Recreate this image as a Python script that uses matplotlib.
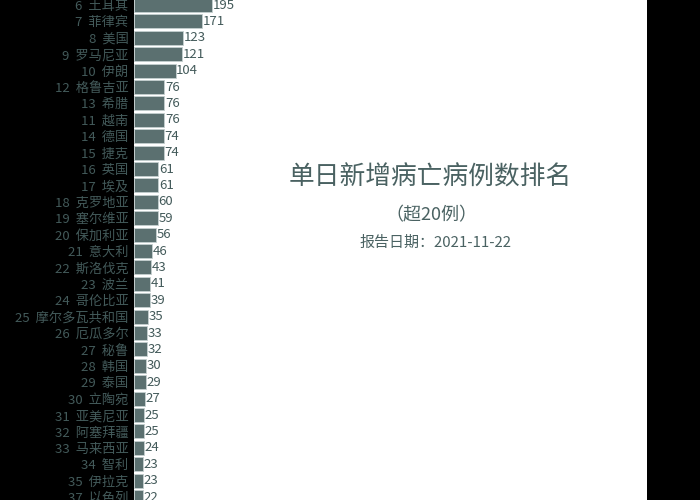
import matplotlib
matplotlib.use("Agg")
import matplotlib.pyplot as plt

plt.rcParams['font.family'] = ['Noto Sans CJK SC', 'DejaVu Sans']

ranks = [6, 7, 8, 9, 10, 12, 13, 11, 14, 15, 16, 17, 18, 19, 20, 21, 22, 23, 24,
         25, 26, 27, 28, 29, 30, 31, 32, 33, 34, 35, 37]
countries = ["土耳其", "菲律宾", "美国", "罗马尼亚", "伊朗", "格鲁吉亚", "希腊", "越南",
             "德国", "捷克", "英国", "埃及", "克罗地亚", "塞尔维亚", "保加利亚", "意大利",
             "斯洛伐克", "波兰", "哥伦比亚", "摩尔多瓦共和国", "厄瓜多尔", "秘鲁", "韩国",
             "泰国", "立陶宛", "亚美尼亚", "阿塞拜疆", "马来西亚", "智利", "伊拉克", "以色列"]
values = [195, 171, 123, 121, 104, 76, 76, 76, 74, 74, 61, 61, 60, 59, 56, 46, 43, 41,
          39, 35, 33, 32, 30, 29, 27, 25, 25, 24, 23, 23, 22]

title = "单日新增病亡病例数排名"
subtitle = "（超20例）"
date_text = "报告日期：2021-11-22"

bar_color = "#5b7070"
text_color = "#435a5a"

fig = plt.figure(figsize=(7, 5), dpi=100, facecolor="black")
ax = fig.add_axes([134 / 700, 0, 513 / 700, 1])
ax.set_facecolor("white")

ypos = list(range(len(values)))
ax.barh(ypos, values, height=0.85, color=bar_color, edgecolor="#c5cfcf", linewidth=0.6)
ax.set_xlim(0, 1282)
ax.set_ylim(30.18, -0.305)

for y, v in zip(ypos, values):
    ax.text(v + 1.5, y, str(v), va="center", ha="left", fontsize=9.5, color=text_color)

ax.set_yticks(ypos)
ax.set_yticklabels([f"{r}  {c}" for r, c in zip(ranks, countries)], fontsize=9.5, color=text_color)
ax.tick_params(axis="y", length=0, pad=4)
ax.set_xticks([])
for s in ax.spines.values():
    s.set_visible(False)

fig.text(430 / 700, 1 - 178 / 500, title, ha="center", va="center", fontsize=18.5, color="#4a6262")
fig.text(431 / 700, 1 - 215 / 500, subtitle, ha="center", va="center", fontsize=13, color="#4a6262")
fig.text(435 / 700, 1 - 243 / 500, date_text, ha="center", va="center", fontsize=10.8, color="#4a6262")

fig.savefig("out.png", dpi=100, facecolor="black")
